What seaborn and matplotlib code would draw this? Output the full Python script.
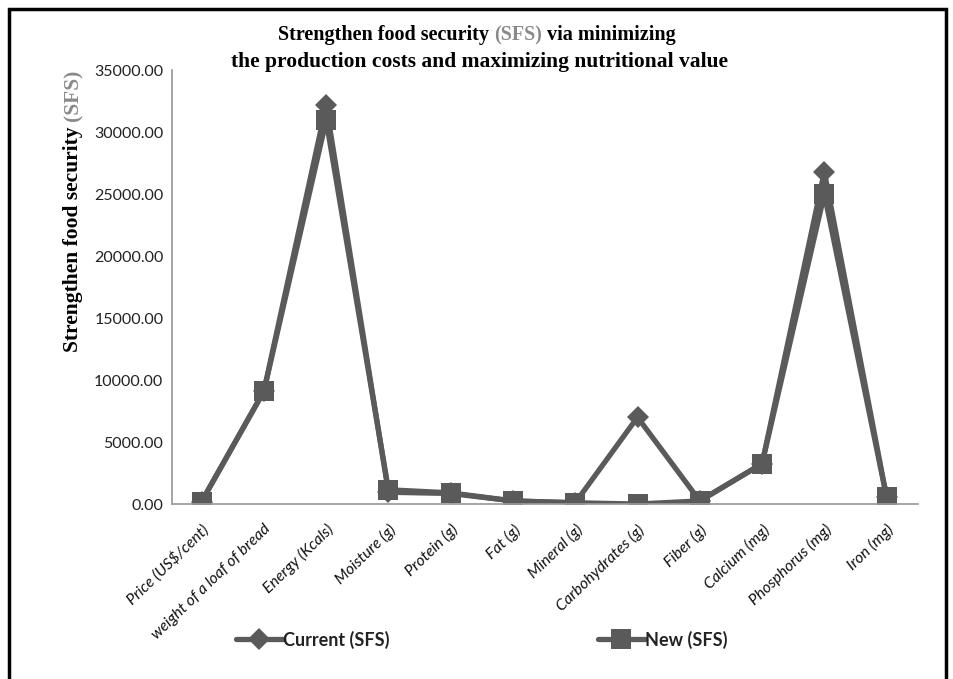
import pandas as pd
import matplotlib.pyplot as plt
import matplotlib.patches as mpatches
import seaborn as sns

sns.set_theme(style="white")
plt.rcParams['font.family'] = ['Lato', 'DejaVu Sans']

categories = ["Price (US$/cent)", "weight of a loaf of bread", "Energy (Kcals)",
              "Moisture (g)", "Protein (g)", "Fat (g)", "Mineral (g)",
              "Carbohydrates (g)", "Fiber (g)", "Calcium (mg)",
              "Phosphorus (mg)", "Iron (mg)"]
current_sfs = [200, 9100, 32150, 950, 850, 250, 100, 7000, 250, 3250, 26800, 550]
new_sfs = [200, 9100, 30950, 1150, 900, 250, 100, 0, 250, 3250, 25000, 550]
yticks = [0, 5000, 10000, 15000, 20000, 25000, 30000, 35000]

df = pd.DataFrame({
    "category": categories * 2,
    "value": current_sfs + new_sfs,
    "series": ["Current (SFS)"] * len(categories) + ["New (SFS)"] * len(categories),
})

GRAY = "#5a5a5a"

fig = plt.figure(figsize=(9.54, 6.79), dpi=100)
ax = fig.add_axes([0.180, 0.2577, 0.782, 0.639])

sns.lineplot(data=df, x="category", y="value", hue="series", style="series",
             markers={"Current (SFS)": "D", "New (SFS)": "s"}, dashes=False,
             palette={"Current (SFS)": GRAY, "New (SFS)": GRAY},
             linewidth=3.8, markersize=14, markeredgewidth=0, sort=False, ax=ax)
# diamonds a little smaller than squares
for line in ax.lines:
    if line.get_marker() == "D":
        line.set_markersize(11)

ax.set_xlim(-0.48, 11.5)
ax.set_ylim(0, 35000)
ax.set_yticks(yticks)
ax.set_yticklabels([f"{v:.2f}" for v in yticks], fontsize=11.5, color="#222222")
ax.set_xticks(range(len(categories)))
ax.set_xticklabels(categories, rotation=44, ha="right", rotation_mode="anchor",
                   fontsize=11.3, style="italic", color="#111111")
ax.tick_params(axis="y", length=0, pad=6)
ax.tick_params(axis="x", length=0, pad=13)
ax.set_xlabel("")
ax.set_ylabel("")
for side in ["top", "right"]:
    ax.spines[side].set_visible(False)
ax.spines["left"].set_color("#9a9a9a")
ax.spines["bottom"].set_color("#9a9a9a")

leg = ax.legend(loc="center", ncol=2, frameon=False, columnspacing=11.5,
                handlelength=2.6, handletextpad=0.05,
                prop={"size": 13, "weight": "bold"})
for t in leg.get_texts():
    t.set_color("#222222")
leg.set_bbox_to_anchor((0.505, 0.058), transform=fig.transFigure)


def colored_text(parts, x, y, size, rotation=0):
    # draw text pieces of different colours next to each other
    fig.canvas.draw()
    renderer = fig.canvas.get_renderer()
    texts = []
    for s, c in parts:
        t = fig.text(0, 0, s, color=c, fontsize=size, fontweight="bold",
                     family=["Liberation Serif", "DejaVu Serif"], rotation=rotation)
        texts.append(t)
    ext = [t.get_window_extent(renderer) for t in texts]
    W, H = fig.bbox.width, fig.bbox.height
    if rotation == 0:
        total = sum(e.width for e in ext)
        pos = x * W - total / 2
        for t, e in zip(texts, ext):
            t.set_position((pos / W, y))
            t.set_ha("left")
            t.set_va("center")
            pos += e.width
    else:
        total = sum(e.height for e in ext)
        pos = y * H - total / 2
        for t, e in zip(texts, ext):
            t.set_position((x, pos / H))
            t.set_ha("center")
            t.set_va("bottom")
            pos += e.height


colored_text([("Strengthen food security ", "black"), ("(SFS)", "#8a8a8a"),
              (" via minimizing", "black")], 0.5, 0.948, 14.5)
colored_text([("the production costs and maximizing nutritional value", "black")],
             0.503, 0.909, 15.5)
colored_text([("Strengthen food security ", "black"), ("(SFS)", "#8a8a8a")],
             0.077, 0.69, 15.5, rotation=90)

# frame around the whole picture
fig.patches.append(mpatches.Rectangle((0.009, -0.01), 0.983, 0.997, transform=fig.transFigure,
                                      fill=False, edgecolor="black", linewidth=2.5))

fig.savefig("out.png", dpi=100)
